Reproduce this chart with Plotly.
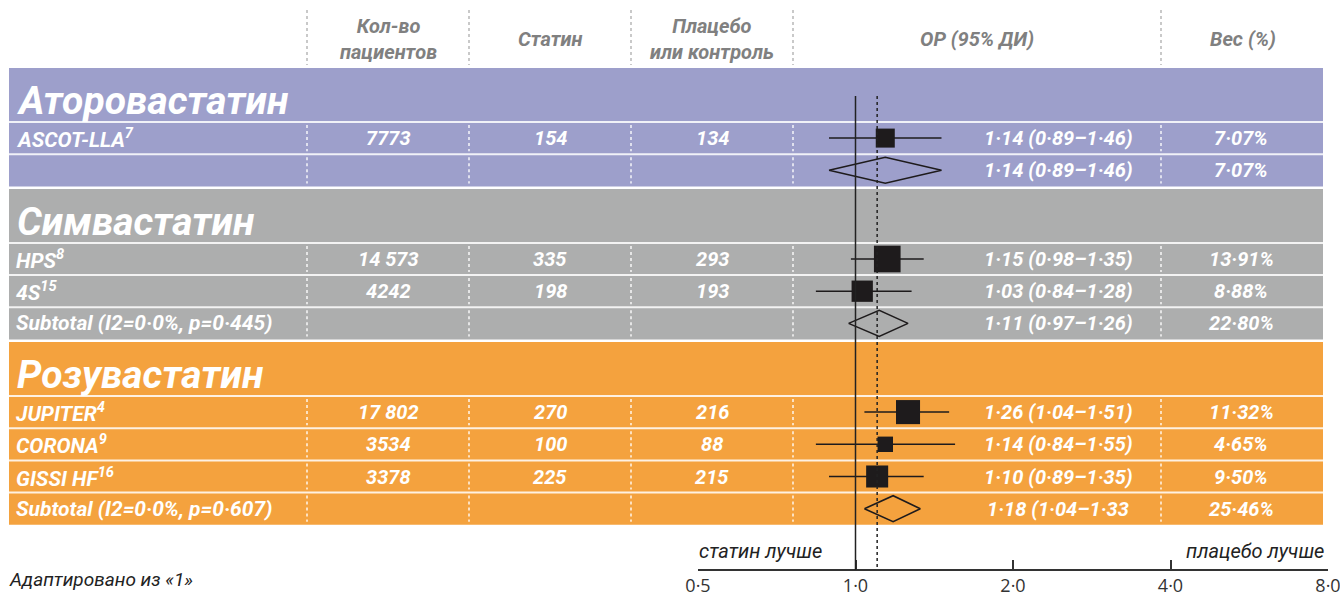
import math
import plotly.graph_objects as go

# ---------------- data ----------------
group_names = ["Аторовастатин", "Симвастатин", "Розувастатин"]
group_sizes = [2, 3, 4]

row_labels = ["ASCOT-LLA<sup>7</sup>", "", "HPS<sup>8</sup>", "4S<sup>15</sup>",
              "Subtotal (I2=0·0%, p=0·445)", "JUPITER<sup>4</sup>", "CORONA<sup>9</sup>",
              "GISSI HF<sup>16</sup>", "Subtotal (I2=0·0%, p=0·607)"]
row_kind = ["study", "summary", "study", "study", "summary", "study", "study", "study", "summary"]
patients = ["7773", "", "14 573", "4242", "", "17 802", "3534", "3378", ""]
statin_events = ["154", "", "335", "198", "", "270", "100", "225", ""]
control_events = ["134", "", "293", "193", "", "216", "88", "215", ""]
or_est = [1.14, 1.14, 1.15, 1.03, 1.11, 1.26, 1.14, 1.10, 1.18]
or_lo = [0.89, 0.89, 0.98, 0.84, 0.97, 1.04, 0.84, 0.89, 1.04]
or_hi = [1.46, 1.46, 1.35, 1.28, 1.26, 1.51, 1.55, 1.35, 1.33]
or_text = ["1·14 (0·89–1·46)", "1·14 (0·89–1·46)", "1·15 (0·98–1·35)", "1·03 (0·84–1·28)",
           "1·11 (0·97–1·26)", "1·26 (1·04–1·51)", "1·14 (0·84–1·55)", "1·10 (0·89–1·35)",
           "1·18 (1·04–1·33"]
weights = [7.07, 7.07, 13.91, 8.88, 22.80, 11.32, 4.65, 9.50, 25.46]
weight_text = ["7·07%", "7·07%", "13·91%", "8·88%", "22·80%", "11·32%", "4·65%", "9·50%", "25·46%"]
overall_or = 1.10
tick_values = [0.5, 1, 2, 4, 8]
tick_labels = ["0·5", "1·0", "2·0", "4·0", "8·0"]
header_labels = ["Кол-во<br>пациентов", "Статин", "Плацебо<br>или контроль", "ОР (95% ДИ)", "Вес (%)"]
favour_left = "статин лучше"
favour_right = "плацебо лучше"
source_note = "Адаптировано из «1»"

# ---------------- styles ----------------
W, H = 1340, 597
group_colors = ["#9d9fcb", "#adaeae", "#f4a23e"]
FONT = "Roboto, Arial, sans-serif"
col_centers = [388, 550, 712, 1058, 1241]
header_centers = [388, 550, 712, 977, 1243]
sep_x = [307, 469, 631, 793, 1161]
band_left, band_right = 9, 1323
title_h, row_h, gap = 54, 32.2, 2.5
top0 = 68

def px(x):
    return x / W

fig = go.Figure()
shapes = []
annotations = []

# layout of rows
row_centers = []
row_tops = []
y = top0
for g, name in enumerate(group_names):
    band_top = y
    title_c = y + title_h / 2 + 6
    y += title_h
    for k in range(group_sizes[g]):
        row_tops.append(y)
        row_centers.append(y + row_h / 2)
        y += row_h
    band_bot = y
    shapes.append(dict(type="rect", xref="paper", yref="y", x0=px(band_left), x1=px(band_right),
                       y0=band_top, y1=band_bot, fillcolor=group_colors[g], line=dict(width=0),
                       layer="below"))
    annotations.append(dict(xref="paper", yref="y", x=px(15), y=title_c, text=name,
                            showarrow=False, xanchor="left", yanchor="middle",
                            font=dict(family=FONT, size=39, color="white", weight="bold",
                                      style="italic")))
    y += gap

# row separators and dotted column separators
for i, t in enumerate(row_tops):
    shapes.append(dict(type="line", xref="paper", yref="y", x0=px(band_left), x1=px(band_right),
                       y0=t, y1=t, line=dict(color="rgba(255,255,255,0.85)", width=2), layer="below"))
    for sx in sep_x:
        shapes.append(dict(type="line", xref="paper", yref="y", x0=px(sx), x1=px(sx),
                           y0=t + 3, y1=t + row_h - 3,
                           line=dict(color="rgba(255,255,255,0.9)", width=1.5, dash="dot"),
                           layer="below"))
# header separators
for sx in sep_x:
    shapes.append(dict(type="line", xref="paper", yref="y", x0=px(sx), x1=px(sx), y0=10, y1=65,
                       line=dict(color="#b8b8b8", width=1.5, dash="dot"), layer="below"))

# header labels
for hx, ht in zip(header_centers, header_labels):
    annotations.append(dict(xref="paper", yref="y", x=px(hx), y=39, text=ht, showarrow=False,
                            xanchor="center", yanchor="middle",
                            font=dict(family=FONT, size=20, color="#808080", weight="bold",
                                      style="italic")))

# row texts
txt_font = dict(family=FONT, size=20, color="white", weight="bold", style="italic")
for i, yc in enumerate(row_centers):
    if row_labels[i]:
        annotations.append(dict(xref="paper", yref="y", x=px(14), y=yc, text=row_labels[i],
                                showarrow=False, xanchor="left", yanchor="middle",
                                font=dict(family=FONT, size=21, color="white", weight="bold",
                                          style="italic")))
    for cx, val in zip(col_centers, [patients[i], statin_events[i], control_events[i],
                                     or_text[i], weight_text[i]]):
        if val:
            annotations.append(dict(xref="paper", yref="y", x=px(cx), y=yc, text=val,
                                    showarrow=False, xanchor="center", yanchor="middle",
                                    font=txt_font))

# reference lines
shapes.append(dict(type="line", xref="x", yref="y", x0=1, x1=1, y0=96, y1=570,
                   line=dict(color="#222", width=1.5)))
shapes.append(dict(type="line", xref="x", yref="y", x0=overall_or, x1=overall_or, y0=96, y1=570,
                   line=dict(color="#222", width=1.5, dash="dot")))

# CI lines, squares, diamonds
ci_x, ci_y = [], []
sq_x, sq_y, sq_s = [], [], []
dm_x, dm_y = [], []
for i, yc in enumerate(row_centers):
    if row_kind[i] == "study":
        ci_x += [or_lo[i], or_hi[i], None]
        ci_y += [yc, yc, None]
        sq_x.append(or_est[i]); sq_y.append(yc); sq_s.append(7.15 * math.sqrt(weights[i]))
    else:
        dm_x += [or_lo[i], or_est[i], or_hi[i], or_est[i], or_lo[i], None]
        dm_y += [yc, yc - 13, yc, yc + 13, yc, None]

fig.add_trace(go.Scatter(x=ci_x, y=ci_y, mode="lines", line=dict(color="#1e1b1c", width=1.5),
                         hoverinfo="skip", showlegend=False))
fig.add_trace(go.Scatter(x=sq_x, y=sq_y, mode="markers",
                         marker=dict(symbol="square", size=sq_s, color="#1e1b1c", opacity=1,
                                     line=dict(width=0)),
                         showlegend=False))
fig.add_trace(go.Scatter(x=dm_x, y=dm_y, mode="lines", line=dict(color="#1e1b1c", width=1.5),
                         showlegend=False))

# favour labels and note
annotations.append(dict(xref="paper", yref="y", x=px(760), y=551, text=favour_left, showarrow=False,
                        xanchor="center", yanchor="middle",
                        font=dict(family=FONT, size=20, color="#222", style="italic")))
annotations.append(dict(xref="paper", yref="y", x=px(1326), y=551, text=favour_right, showarrow=False,
                        xanchor="right", yanchor="middle",
                        font=dict(family=FONT, size=20, color="#222", style="italic")))
annotations.append(dict(xref="paper", yref="y", x=px(7), y=579, text=source_note, showarrow=False,
                        xanchor="left", yanchor="middle",
                        font=dict(family=FONT, size=19, color="#222", style="italic")))

fig.update_layout(
    width=W, height=H, margin=dict(l=0, r=0, t=0, b=0, autoexpand=False),
    paper_bgcolor="white", plot_bgcolor="rgba(0,0,0,0)",
    shapes=shapes, annotations=annotations, showlegend=False,
    xaxis=dict(type="log", range=[math.log10(0.5), math.log10(8)],
               domain=[698 / W, 1328 / W], anchor="free", position=27 / H, automargin=False,
               showline=True, linecolor="#333", linewidth=1.5,
               ticks="inside", ticklen=9, tickwidth=1.5, tickcolor="#333",
               tickvals=tick_values, ticktext=tick_labels, ticklabeloverflow="allow",
               ticklabelstandoff=0,
               tickfont=dict(family="Open Sans, sans-serif", size=18, color="#333"),
               showgrid=False, zeroline=False, fixedrange=True),
    yaxis=dict(range=[H, 0], domain=[0, 1], visible=False, showgrid=False, zeroline=False,
               automargin=False, fixedrange=True),
)

fig.write_html("out.html")
